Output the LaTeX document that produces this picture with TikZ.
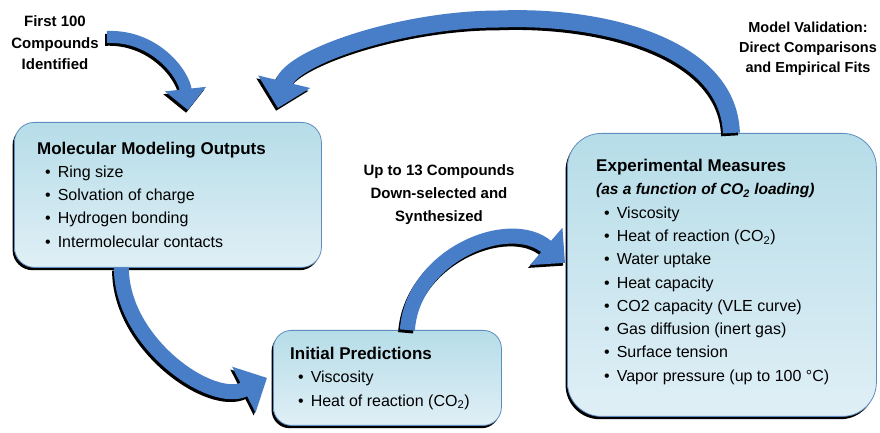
\documentclass[tikz,border=0pt]{standalone}
\usepackage{fontspec}
\setmainfont{Liberation Sans}
\usetikzlibrary{arrows.meta, positioning, shadows}
\definecolor{flowblue}{RGB}{72,126,200}
\definecolor{boxtop}{RGB}{182,221,232}
\definecolor{boxbottom}{RGB}{224,239,246}
\definecolor{boxedge}{RGB}{95,140,190}
\newcommand{\bul}{\hspace*{8pt}\textbullet\hspace{7pt}}
\newcommand{\cotwo}{CO\textsubscript{2}}
\newcommand{\heading}[1]{{\fontsize{17}{23.3}\selectfont\bfseries #1}}

\begin{document}
\begin{tikzpicture}[
  x=1pt, y=1pt,
  panel/.style={rectangle, draw=boxedge, line width=0.8pt,
    top color=boxtop, bottom color=boxbottom, inner sep=0pt,
    anchor=north west,
    drop shadow={shadow xshift=-1.8pt, shadow yshift=-2.8pt,
      fill=black, opacity=1}},
  listing/.style={anchor=north west, inner sep=0pt, align=left,
    font=\fontsize{16}{23.3}\selectfont},
  note/.style={align=center, inner sep=0pt,
    font=\bfseries\fontsize{15}{22}\selectfont},
  flow/.style={line width=#1}
]
\useasboundingbox (0,0) rectangle (880,433);

% boxes
\node[panel, rounded corners=20pt, minimum width=307pt, minimum height=145pt] (mol) at (14,311) {};
\node[panel, rounded corners=18pt, minimum width=228pt, minimum height=95pt] (init) at (273,103) {};
\node[panel, rounded corners=34pt, minimum width=309pt, minimum height=283pt] (exp) at (567,300) {};

% box contents
\node[listing] (molText) at ([shift={(23pt,-19.5pt)}]mol.north west)
  {\heading{Molecular Modeling Outputs}\\
   \bul Ring size\\
   \bul Solvation of charge\\
   \bul Hydrogen bonding\\
   \bul Intermolecular contacts};
\node[listing] (initText) at ([shift={(17pt,-17pt)}]init.north west)
  {\heading{Initial Predictions}\\
   \bul Viscosity\\
   \bul Heat of reaction (\cotwo)};
\node[listing] (expText) at ([shift={(29pt,-26pt)}]exp.north west)
  {\heading{Experimental Measures}\\
   {\bfseries\itshape\fontsize{15.5}{22}\selectfont (as a function of \cotwo{} loading)}\\
   \bul Viscosity\\
   \bul Heat of reaction (\cotwo)\\
   \bul Water uptake\\
   \bul Heat capacity\\
   \bul CO2 capacity (VLE curve)\\
   \bul Gas diffusion (inert gas)\\
   \bul Surface tension\\
   \bul Vapor pressure (up to 100 °C)};

% labels
\node[note, font=\bfseries\fontsize{15}{21.5}\selectfont] (first) at (55,390)
  {First 100\\Compounds\\Identified};
\node[note, font=\bfseries\fontsize{14.5}{20}\selectfont] (valid) at (808,384)
  {Model Validation:\\Direct Comparisons\\and Empirical Fits};
\node[note, font=\bfseries\fontsize{15}{23}\selectfont] (synth) at (439,238)
  {Up to 13 Compounds\\Down-selected and\\Synthesized};

% block arrows, black shadow first
\foreach \ink/\dx/\dy in {black/-1.8/-2.8, flowblue/0/0}{
\begin{scope}[transform canvas={shift={(\dx pt,\dy pt)}}]
\draw[flow=12pt, draw=\ink, -{Triangle[length=21pt,width=40pt]}]
  ([shift={(8pt,6pt)}]first.east) .. controls +(48,2) and +(-4,36) .. ([shift={(20pt,12pt)}]mol.north);
\draw[flow=17pt, draw=\ink, -{Triangle[length=27pt,width=52pt]}]
  ([xshift=9.5pt]exp.north) .. controls +(-3,88) and +(100,4) .. (500,414)
  .. controls +(-100,0) and +(12,50) .. ([shift={(110pt,14pt)}]mol.north);
\draw[flow=15pt, draw=\ink, -{Triangle[length=26pt,width=50pt]}]
  ([xshift=-46.5pt]mol.south) .. controls +(0,-75) and +(-55,-28) .. ([xshift=-6pt]init.west);
\draw[flow=15pt, draw=\ink, -{Triangle[length=25pt,width=48pt]}]
  ([xshift=20pt]init.north) .. controls +(5,75) and +(-55,48) .. ([shift={(-2pt,12pt)}]exp.west);
\end{scope}
}
\end{tikzpicture}
\end{document}
